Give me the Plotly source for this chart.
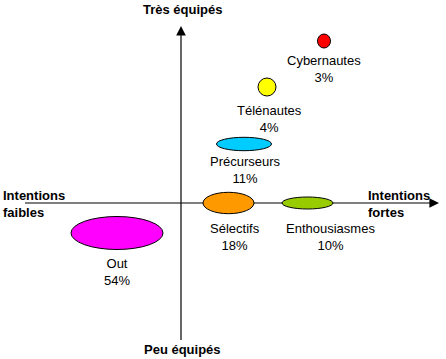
import plotly.graph_objects as go

# ---- data ----
segments = ["Cybernautes", "Télénautes", "Précurseurs", "Sélectifs", "Enthousiasmes", "Out"]
shares = [3, 4, 11, 18, 10, 54]
intentions = [143, 86, 63, 47.5, 126.5, -64]   # x position (weak -> strong intentions)
equipment = [162, 116, 59, 0, 0, -30]          # y position (poorly -> well equipped)

# ---- styles ----
colors = ["#FF0000", "#FFFF00", "#00CCFF", "#FF9900", "#99CC00", "#FF00FF"]
semi_w = [6.5, 9, 27.5, 25.5, 25.5, 46]
semi_h = [7, 9, 6.7, 10.7, 6, 16.5]
label_dx = [0, 2, 1, 6.5, 22.5, 0]
label_dy = [-27.5, -31.5, -26.3, -33.7, -34, -38.7]

FONT = "Liberation Sans, Arial, sans-serif"

fig = go.Figure()
# invisible trace to anchor axes
fig.add_trace(go.Scatter(x=intentions, y=equipment, mode="markers",
                         marker=dict(size=1, opacity=0), hoverinfo="skip", showlegend=False))

shapes = []
# axis lines
shapes.append(dict(type="line", xref="x", yref="y", x0=-156, y0=0, x1=252, y1=0,
                   line=dict(color="black", width=1.2), layer="above"))
shapes.append(dict(type="line", xref="x", yref="y", x0=0, y0=-137, x1=0, y1=171,
                   line=dict(color="black", width=1.2), layer="above"))
for cx, cy, a, b, c in zip(intentions, equipment, semi_w, semi_h, colors):
    shapes.append(dict(type="circle", xref="x", yref="y",
                       x0=cx - a, x1=cx + a, y0=cy - b, y1=cy + b,
                       fillcolor=c, line=dict(color="black", width=1), layer="above"))

annotations = []
# arrow heads
annotations.append(dict(x=258, y=0, ax=250, ay=0, xref="x", yref="y", axref="x", ayref="y",
                        text="", showarrow=True, arrowhead=2, arrowsize=1.6, arrowwidth=1.2,
                        arrowcolor="black"))
annotations.append(dict(x=0, y=177, ax=0, ay=169, xref="x", yref="y", axref="x", ayref="y",
                        text="", showarrow=True, arrowhead=2, arrowsize=1.6, arrowwidth=1.2,
                        arrowcolor="black"))
# axis labels
bold = dict(family=FONT, size=13, color="black")
annotations.append(dict(x=1, y=194, xref="x", yref="y", text="<b>Très équipés</b>",
                        showarrow=False, font=bold, xanchor="center", yanchor="middle"))
annotations.append(dict(x=1, y=-146, xref="x", yref="y", text="<b>Peu équipés</b>",
                        showarrow=False, font=bold, xanchor="center", yanchor="middle"))
annotations.append(dict(x=-180, y=-0.5, xref="x", yref="y", text="<b>Intentions<br>faibles</b>",
                        showarrow=False, font=bold, xanchor="left", yanchor="middle", align="left"))
annotations.append(dict(x=185, y=-0.5, xref="x", yref="y", text="<b>Intentions<br>fortes</b>",
                        showarrow=False, font=bold, xanchor="left", yanchor="middle", align="left"))
# segment labels
for name, s, cx, cy, dx, dy in zip(segments, shares, intentions, equipment, label_dx, label_dy):
    annotations.append(dict(x=cx + dx, y=cy + dy, xref="x", yref="y",
                            text=f"{name}<br>{s}%", showarrow=False,
                            font=dict(family=FONT, size=13, color="black"),
                            xanchor="center", yanchor="middle", align="center"))

fig.update_layout(
    width=446, height=359,
    margin=dict(l=0, r=0, t=0, b=0),
    paper_bgcolor="white", plot_bgcolor="white",
    xaxis=dict(range=[-181, 265], visible=False, fixedrange=True),
    yaxis=dict(range=[-156, 203], visible=False, fixedrange=True),
    shapes=shapes, annotations=annotations, showlegend=False,
)

fig.write_html("out.html", config={"displayModeBar": False, "staticPlot": True},
               post_script="document.body.style.margin='0';document.body.style.padding='0';document.body.style.overflow='hidden';")
